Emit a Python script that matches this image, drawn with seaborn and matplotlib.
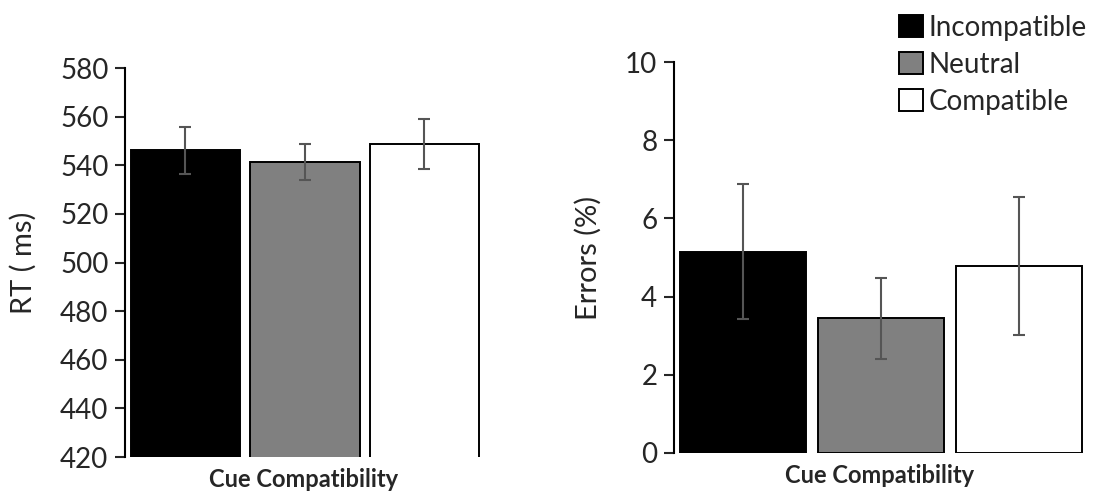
import matplotlib
matplotlib.use("Agg")
import matplotlib.pyplot as plt
import seaborn as sns
import pandas as pd

sns.set_theme(style="ticks")
plt.rcParams['font.family'] = ['Lato', 'DejaVu Sans']

# Dados
conditions = ['Incompatible', 'Neutral', 'Compatible']
colors = ['#000000', '#808080', '#ffffff']
rt_mean = [546.3, 541.3, 548.7]
rt_low = [536.3, 533.9, 538.6]
rt_high = [555.9, 548.9, 559.0]
err_mean = [5.15, 3.44, 4.77]
err_low = [3.43, 2.41, 3.01]
err_high = [6.87, 4.48, 6.54]

df = pd.DataFrame({'cond': conditions, 'rt': rt_mean, 'err': err_mean})
palette = dict(zip(conditions, colors))

fig = plt.figure(figsize=(10.93, 4.91), dpi=100)
ax1 = fig.add_axes([0.1144, 0.0692, 0.327, 0.7923])
ax2 = fig.add_axes([0.6166, 0.0774, 0.3765, 0.7963])

def draw(ax, col, low, high, ylim, ticks, ylabel, legend):
    sns.barplot(data=df, x='cond', y=col, hue='cond', palette=palette,
                order=conditions, hue_order=conditions, width=0.915,
                edgecolor='black', linewidth=1.4, legend=legend, ax=ax)
    means = df[col].values
    yerr = [[m - l for m, l in zip(means, low)], [h - m for m, h in zip(means, high)]]
    ax.errorbar(range(len(conditions)), means, yerr=yerr, fmt='none',
                ecolor='#555555', elinewidth=1.5, capsize=4, capthick=1.5)
    ax.set_ylim(*ylim)
    ax.set_yticks(ticks)
    ax.set_xlim(-0.505, 2.485)
    ax.set_xticks([])
    ax.set_xlabel('Cue Compatibility', fontsize=17, fontweight='bold', labelpad=8)
    ax.set_ylabel(ylabel, fontsize=21, labelpad=17)
    ax.tick_params(axis='y', labelsize=20, length=7, width=1.5, direction='out', pad=5)
    for s in ['top', 'right', 'bottom']:
        ax.spines[s].set_visible(False)
    ax.spines['left'].set_linewidth(1.5)
    ax.spines['left'].set_color('black')

draw(ax1, 'rt', rt_low, rt_high, (420, 580), range(420, 581, 20), 'RT ( ms)', False)
draw(ax2, 'err', err_low, err_high, (0, 10), range(0, 11, 2), 'Errors (%)', True)

leg = ax2.get_legend()
handles = leg.legend_handles
leg.remove()
fig.legend(handles, conditions, loc='upper left', bbox_to_anchor=(0.805, 1.01),
           frameon=False, fontsize=20, handlelength=0.85, handleheight=0.85,
           handletextpad=0.2, labelspacing=0.4, borderpad=0.2)

fig.savefig("out.png", dpi=100)
